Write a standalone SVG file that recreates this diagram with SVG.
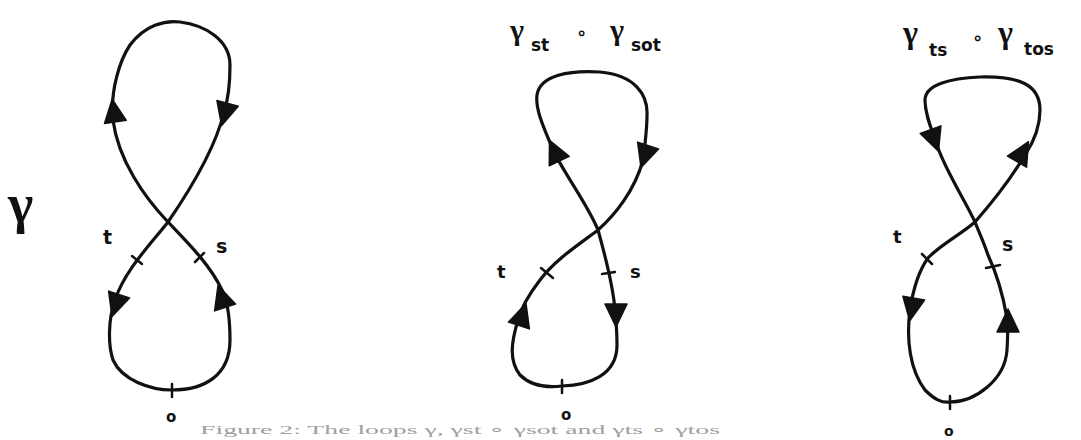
<svg xmlns="http://www.w3.org/2000/svg" width="1081" height="440" viewBox="0 0 1081 440">
<style>
.curve{fill:none;stroke:#111;stroke-width:3.2;stroke-linejoin:round;stroke-linecap:round}
.tick{stroke:#111;stroke-width:2.5;stroke-linecap:round}
.lbl{font-family:"DejaVu Sans","Liberation Sans",sans-serif;font-weight:bold;fill:#111}
.greek{font-family:"Liberation Serif","DejaVu Serif",serif;font-weight:bold;fill:#111}
.cap{font-family:"Liberation Serif",serif;fill:#a0a0a0;font-size:12px}
</style>
<defs>
<path id="arr" d="M0,-13 L11,10 L-11,10 Z" fill="#111" stroke="#111" stroke-width="1.5" stroke-linejoin="round"/>
</defs>
<rect width="1081" height="440" fill="#fff"/>

<g id="fig-gamma">
<text class="greek" x="8" y="222" font-size="54">γ</text>
<path class="curve" d="M172 390 C205 390 230 375 230 340 C230 315 226 298 222 290 C210 265 190 245 168 222 C145 198 118 160 113 120 C110 90 120 60 130 45 C145 25 165 20 180 22 C205 25 230 40 230 65 C230 85 228 100 224 112 C215 150 190 190 168 222 C150 245 125 270 115 300 C108 320 108 345 113 360 C122 380 150 390 172 390 Z"/>
<use href="#arr" transform="translate(114,112) rotate(-8)"/>
<use href="#arr" transform="translate(225,113) rotate(195)"/>
<use href="#arr" transform="translate(116,304) rotate(198)"/>
<use href="#arr" transform="translate(222,298) rotate(-18)"/>
<line class="tick" x1="132" y1="256" x2="142" y2="264"/>
<line class="tick" x1="195" y1="262" x2="204" y2="253"/>
<line class="tick" x1="172" y1="384" x2="172" y2="397"/>
<text class="lbl" x="103" y="244" font-size="19">t</text>
<text class="lbl" x="216" y="253" font-size="19">s</text>
<text class="lbl" x="166" y="422" font-size="15">o</text>
</g>

<g id="fig-st-sot">
<text class="greek" x="510" y="40" font-size="30">γ</text>
<text class="lbl" x="531" y="51" font-size="17">st</text>
<text class="lbl" x="576" y="39" font-size="18">∘</text>
<text class="greek" x="610" y="40" font-size="30">γ</text>
<text class="lbl" x="631" y="51" font-size="17">sot</text>
<path class="curve" d="M562 386 C590 385 617 375 617 345 C617 330 616 320 615 310 C613 285 605 255 598 230 C588 205 565 175 553 150 C545 130 535 110 537 95 C540 75 570 70 600 72 C635 75 648 95 647 115 C647 130 645 145 643 160 C635 190 615 215 598 230 C578 245 555 260 540 280 C530 293 522 305 518 320 C512 340 508 360 520 375 C530 385 545 388 562 386 Z"/>
<use href="#arr" transform="translate(555,152) rotate(-25)"/>
<use href="#arr" transform="translate(645,155) rotate(198)"/>
<use href="#arr" transform="translate(522,316) rotate(18)"/>
<use href="#arr" transform="translate(616,314) rotate(180)"/>
<line class="tick" x1="541" y1="268" x2="553" y2="278"/>
<line class="tick" x1="602" y1="274" x2="615" y2="272"/>
<line class="tick" x1="562" y1="380" x2="562" y2="393"/>
<text class="lbl" x="497" y="278" font-size="18">t</text>
<text class="lbl" x="630" y="278" font-size="18">s</text>
<text class="lbl" x="561" y="420" font-size="15">o</text>
</g>

<g id="fig-ts-tos">
<text class="greek" x="903" y="43" font-size="32">γ</text>
<text class="lbl" x="929" y="56" font-size="17">ts</text>
<text class="lbl" x="972" y="44" font-size="18">∘</text>
<text class="greek" x="998" y="43" font-size="32">γ</text>
<text class="lbl" x="1024" y="55" font-size="17">tos</text>
<path class="curve" d="M950 402 C975 402 1005 380 1007 350 C1008 335 1008 328 1007 318 C1003 295 995 270 988 255 C983 240 978 230 975 222 C965 200 945 170 937 145 C932 130 925 115 925 100 C925 85 950 78 980 77 C1020 76 1040 85 1040 110 C1040 125 1035 140 1025 155 C1010 180 990 205 975 222 C960 235 940 245 928 258 C918 272 913 290 910 310 C906 340 910 370 925 390 C935 400 942 403 950 402 Z"/>
<use href="#arr" transform="translate(934,139) rotate(160)"/>
<use href="#arr" transform="translate(1022,153) rotate(30)"/>
<use href="#arr" transform="translate(912,308) rotate(190)"/>
<use href="#arr" transform="translate(1008,322) rotate(0)"/>
<line class="tick" x1="922" y1="254" x2="932" y2="264"/>
<line class="tick" x1="986" y1="268" x2="1000" y2="265"/>
<line class="tick" x1="950" y1="396" x2="950" y2="409"/>
<text class="lbl" x="893" y="243" font-size="18">t</text>
<text class="lbl" x="1002" y="251" font-size="19">s</text>
<text class="lbl" x="944" y="436" font-size="14">o</text>
</g>

<text class="cap" x="200" y="434" textLength="520" lengthAdjust="spacingAndGlyphs">Figure 2: The loops γ, γst ∘ γsot and γts ∘ γtos</text>
</svg>
